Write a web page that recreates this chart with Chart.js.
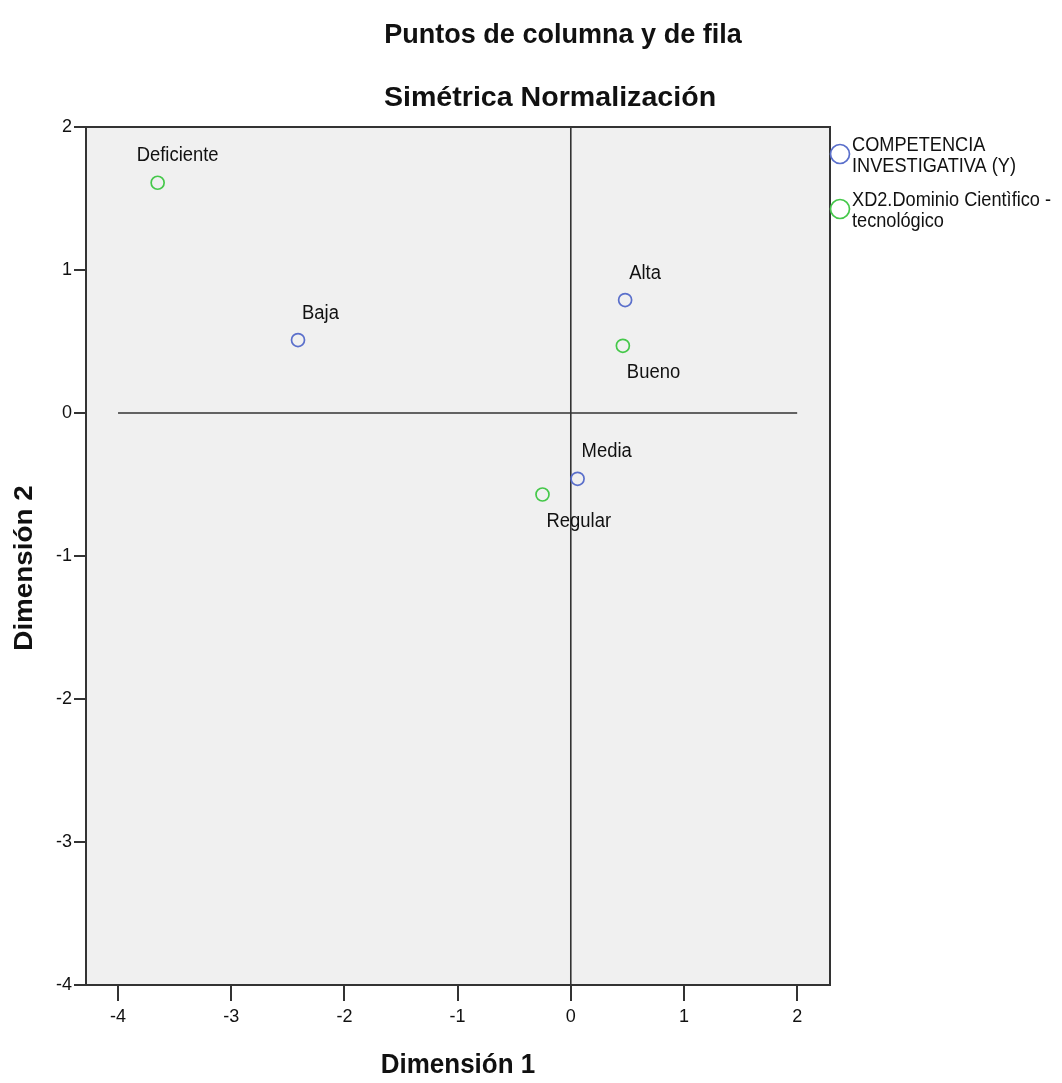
<!DOCTYPE html>
<html><head><meta charset="utf-8">
<script src="https://cdn.jsdelivr.net/npm/chart.js@4/dist/chart.umd.min.js"></script>
<style>html,body{margin:0;padding:0;background:#fff}#wrap{width:1062px;height:1083px}</style>
</head><body><div id="wrap"><canvas id="c" width="1062" height="1083"></canvas></div>
<script>
const titleLines = ["Puntos de columna y de fila", "Simétrica Normalización"];
const xAxisTitle = "Dimensión 1";
const yAxisTitle = "Dimensión 2";
const xTicks = [-4, -3, -2, -1, 0, 1, 2];
const yTicks = [-4, -3, -2, -1, 0, 1, 2];

const rowLabels = ["Alta", "Media", "Baja"];
const rowX = [0.48, 0.06, -2.41];
const rowY = [0.79, -0.46, 0.51];

const colLabels = ["Bueno", "Regular", "Deficiente"];
const colX = [0.46, -0.25, -3.65];
const colY = [0.47, -0.57, 1.61];

const series1Name = ["COMPETENCIA", "INVESTIGATIVA (Y)"];
const series2Name = ["XD2.Dominio Cientìfico -", "tecnológico"];

const refH = [{x: -4, y: 0}, {x: 2, y: 0}];
const refV = [{x: 0, y: 2}, {x: 0, y: -4}];

const blue = '#5a6fcb';
const green = '#45c84a';
const FONT = '"Liberation Sans", Arial, sans-serif';

const pts = (xs, ys, ls) => xs.map((x, i) => ({x, y: ys[i], label: ls[i]}));

const labelPos = {Alta: 'above', Media: 'above', Baja: 'above', Deficiente: 'above', Bueno: 'below', Regular: 'below'};

function txt(ctx, s, x, y, font, sx, sy, align) {
  ctx.save();
  ctx.translate(x, y);
  ctx.scale(sx, sy);
  ctx.font = font;
  ctx.textAlign = align || 'left';
  ctx.textBaseline = 'middle';
  ctx.fillText(s, 0, 0);
  ctx.restore();
}

const decor = {
  id: 'decor',
  beforeDraw(chart) {
    const {ctx, chartArea: a} = chart;
    ctx.save();
    ctx.fillStyle = '#f0f0f0';
    ctx.fillRect(a.left, a.top, a.right - a.left, a.bottom - a.top);
    ctx.restore();
  },
  afterDatasetsDraw(chart) {
    const {ctx, chartArea: a} = chart;
    ctx.save();
    ctx.strokeStyle = '#333';
    ctx.lineWidth = 2;
    ctx.strokeRect(a.left, a.top, a.right - a.left, a.bottom - a.top);
    ctx.fillStyle = '#111';
    // point labels
    chart.data.datasets.forEach((ds, di) => {
      if (!ds.pointLabels) return;
      const meta = chart.getDatasetMeta(di);
      meta.data.forEach((el, i) => {
        const lab = ds.data[i].label;
        const dy = labelPos[lab] === 'below' ? 27 : -27;
        const dx = lab === 'Deficiente' ? -21 : 4;
        txt(ctx, lab, el.x + dx, el.y + dy, '19px ' + FONT, 0.97, 1.05, 'left');
      });
    });
    // titles
    txt(ctx, titleLines[0], 563, 35, 'bold 26px ' + FONT, 1.04, 1.07, 'center');
    txt(ctx, titleLines[1], 550, 98, 'bold 26px ' + FONT, 1.1, 1.07, 'center');
    txt(ctx, xAxisTitle, 458, 1065, 'bold 26px ' + FONT, 1.0, 1.07, 'center');
    ctx.save();
    ctx.translate(25, 568);
    ctx.rotate(-Math.PI / 2);
    txt(ctx, yAxisTitle, 0, 0, 'bold 26px ' + FONT, 1.07, 1.0, 'center');
    ctx.restore();
    // legend
    const leg = [[blue, series1Name, 154], [green, series2Name, 209]];
    leg.forEach(([c, lines, cy]) => {
      ctx.beginPath();
      ctx.strokeStyle = c;
      ctx.lineWidth = 1.7;
      ctx.arc(840, cy, 9.5, 0, Math.PI * 2);
      ctx.stroke();
      ctx.fillStyle = '#111';
      txt(ctx, lines[0], 852, cy - 8, '18px ' + FONT, 1.01, 1.08, 'left');
      txt(ctx, lines[1], 852, cy + 13, '18px ' + FONT, 1.01, 1.08, 'left');
    });
    ctx.restore();
  }
};

new Chart(document.getElementById('c'), {
  type: 'scatter',
  data: {
    datasets: [
      {label: 'h', type: 'line', data: refH, borderColor: '#333', borderWidth: 1.6, pointRadius: 0, fill: false, order: 5},
      {label: 'v', type: 'line', data: refV, borderColor: '#333', borderWidth: 1.6, pointRadius: 0, fill: false, order: 5},
      {label: series1Name.join(' '), data: pts(rowX, rowY, rowLabels), pointLabels: true,
        borderColor: blue, backgroundColor: 'rgba(0,0,0,0)', pointRadius: 6.5, pointBorderWidth: 1.7, pointHoverRadius: 6.5, order: 1},
      {label: series2Name.join(' '), data: pts(colX, colY, colLabels), pointLabels: true,
        borderColor: green, backgroundColor: 'rgba(0,0,0,0)', pointRadius: 6.5, pointBorderWidth: 1.7, pointHoverRadius: 6.5, order: 1}
    ]
  },
  options: {
    responsive: false,
    animation: false,
    devicePixelRatio: 1,
    layout: {padding: {left: 0, top: 127, right: 232, bottom: 0}},
    plugins: {legend: {display: false}, tooltip: {enabled: false}, title: {display: false}},
    scales: {
      x: {
        type: 'linear', min: -4.283, max: 2.29,
        afterBuildTicks: s => { s.ticks = xTicks.map(v => ({value: v})); },
        afterFit: s => { s.height = 98; },
        grid: {drawOnChartArea: false, drawTicks: true, tickLength: 16, color: '#333', lineWidth: 2},
        border: {display: false},
        ticks: {color: '#111', font: {size: 18, family: FONT}, padding: 5, maxRotation: 0}
      },
      y: {
        type: 'linear', min: -4, max: 2,
        afterBuildTicks: s => { s.ticks = yTicks.map(v => ({value: v})); },
        afterFit: s => { s.width = 86; },
        grid: {drawOnChartArea: false, drawTicks: true, tickLength: 12, color: '#333', lineWidth: 2},
        border: {display: false},
        ticks: {color: '#111', font: {size: 18, family: FONT}, padding: 2}
      }
    }
  },
  plugins: [decor]
});
</script></body></html>
